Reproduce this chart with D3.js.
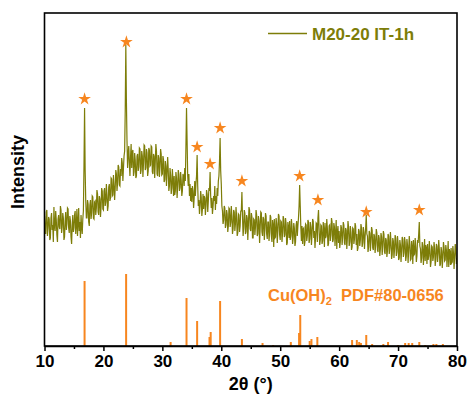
<!DOCTYPE html>
<html>
<head>
<meta charset="utf-8">
<script src="https://cdn.jsdelivr.net/npm/d3@7"></script>
<style>
  body { margin: 0; background: #fff; }
  svg { display: block; }
  text { font-family: "Liberation Sans", Arial, sans-serif; font-weight: bold; }
</style>
</head>
<body>
<svg id="chart"></svg>
<script>
// measured pattern, 2θ = 10..80 in 0.1° steps (arbitrary intensity units), one row per degree
const scanStart = 10;
const scanStep = 0.1;
const scanIntensity = [
  130, 115, 112, 134, 136, 110, 118, 129, 127, 106,
  108, 128, 133, 116, 121, 104, 139, 120, 115, 135,
  126, 111, 104, 127, 131, 119, 117, 140, 136, 113,
  119, 133, 128, 106, 109, 125, 134, 116, 122, 138,
  137, 118, 113, 130, 125, 109, 102, 121, 131, 114,
  118, 131, 135, 112, 121, 137, 110, 123, 138, 115,
  124, 108, 131, 119, 112, 127, 135, 180, 238, 175,
  145, 128, 128, 146, 142, 124, 120, 141, 146, 127,
  133, 150, 149, 128, 127, 144, 145, 131, 138, 156,
  152, 134, 131, 150, 147, 129, 139, 158, 155, 137,
  136, 155, 158, 140, 144, 162, 151, 135, 140, 159,
  162, 145, 148, 168, 167, 150, 151, 171, 160, 146,
  158, 176, 172, 155, 163, 181, 179, 161, 160, 177,
  170, 188, 183, 165, 178, 190, 195, 235, 301, 245,
  205, 178, 192, 200, 183, 170, 189, 202, 178, 194,
  196, 170, 174, 193, 186, 168, 170, 190, 192, 175,
  179, 198, 197, 172, 176, 195, 190, 169, 183, 201,
  200, 176, 178, 197, 193, 170, 175, 198, 196, 180,
  181, 200, 199, 174, 172, 192, 190, 168, 184, 202,
  195, 172, 170, 191, 188, 169, 179, 197, 192, 171,
  172, 190, 186, 164, 166, 185, 180, 160, 174, 189,
  176, 155, 160, 178, 171, 152, 158, 177, 166, 150,
  170, 151, 155, 174, 168, 148, 160, 176, 172, 155,
  158, 174, 166, 150, 155, 172, 170, 160, 178, 165,
  200, 238, 205, 170, 160, 172, 150, 162, 145, 158,
  144, 160, 155, 138, 148, 165, 150, 162, 170, 191,
  160, 140, 146, 132, 140, 155, 149, 130, 137, 152,
  137, 150, 148, 131, 140, 156, 152, 134, 145, 158,
  155, 174, 150, 138, 148, 132, 139, 150, 145, 160,
  136, 150, 142, 158, 150, 165, 170, 185, 208, 175,
  162, 140, 135, 122, 126, 140, 138, 118, 121, 136,
  132, 114, 120, 138, 137, 119, 124, 140, 130, 112,
  117, 136, 134, 115, 122, 139, 129, 110, 113, 132,
  131, 114, 120, 135, 135, 154, 130, 110, 118, 136,
  133, 112, 114, 131, 128, 106, 121, 139, 136, 117,
  115, 133, 129, 108, 108, 127, 126, 111, 119, 136,
  131, 110, 112, 130, 125, 103, 118, 134, 133, 114,
  110, 129, 127, 106, 116, 133, 130, 112, 107, 124,
  124, 105, 113, 131, 129, 110, 104, 126, 121, 99,
  127, 108, 109, 128, 122, 103, 115, 132, 130, 111,
  106, 125, 124, 104, 113, 130, 127, 109, 111, 128,
  122, 101, 103, 124, 119, 108, 125, 106, 110, 127,
  120, 102, 108, 123, 118, 100, 104, 121, 125, 110,
  120, 128, 140, 161, 140, 118, 105, 120, 102, 117,
  118, 100, 104, 122, 121, 105, 110, 126, 124, 103,
  107, 124, 119, 101, 112, 127, 125, 108, 115, 98,
  109, 123, 122, 104, 128, 136, 117, 101, 106, 121,
  120, 102, 105, 124, 116, 99, 123, 108, 110, 127,
  118, 100, 102, 120, 121, 105, 111, 128, 124, 104,
  106, 123, 119, 100, 113, 126, 97, 114, 120, 103,
  115, 98, 104, 121, 118, 101, 109, 124, 121, 103,
  101, 118, 116, 97, 108, 125, 119, 100, 104, 120,
  114, 96, 99, 118, 117, 102, 107, 123, 120, 101,
  112, 95, 98, 117, 115, 100, 106, 122, 118, 99,
  103, 119, 114, 97, 109, 118, 131, 112, 110, 94,
  99, 115, 113, 95, 104, 119, 116, 98, 96, 112,
  110, 93, 101, 117, 113, 96, 94, 111, 108, 90,
  97, 113, 109, 91, 100, 115, 112, 94, 92, 108,
  106, 89, 95, 112, 110, 92, 98, 114, 104, 87,
  91, 108, 105, 88, 97, 111, 108, 90, 94, 110,
  103, 86, 88, 106, 101, 84, 95, 109, 107, 89,
  93, 109, 104, 85, 90, 107, 101, 83, 96, 110,
  102, 86, 87, 105, 99, 82, 106, 91, 92, 108,
  99, 84, 90, 106, 103, 112, 124, 100, 97, 83,
  88, 104, 100, 81, 93, 107, 85, 101, 98, 82,
  102, 86, 90, 105, 97, 79, 84, 100, 99, 85,
  89, 104, 98, 80, 86, 102, 100, 84, 92, 106,
  97, 80, 82, 99, 95, 78, 88, 104, 99, 85,
  86, 101, 96, 79, 91, 105, 79, 97, 94, 81,
  98, 83, 84, 100, 93, 77, 89, 102, 96, 82,
  88
];

// indexed peaks marked with stars
const starAngles = [16.8, 23.9, 34.1, 35.9, 38.1, 39.8, 43.5, 53.3, 56.4, 64.6, 73.6];
const starLevels = [247, 304, 247, 199, 182, 218, 165, 170, 146, 134, 136];

// Cu(OH)2 PDF#80-0656 reference lines
const refAngles  = [16.8, 23.85, 31.4, 34.1, 35.9, 38.0, 38.2, 39.8, 43.5, 47.0, 48.8, 51.8,
                    53.2, 53.4, 55.0, 55.3, 56.3, 62.2, 63.0, 63.4, 63.7, 64.6, 65.6, 67.5,
                    68.3, 70.0, 71.2, 71.8, 72.4, 73.6, 74.6, 76.0, 76.5, 77.6];
const refHeights = [65, 72, 4, 48, 25, 9, 14, 45, 7, 3, 1, 4,
                    13, 31, 5, 7, 9, 6, 6, 4, 3, 11, 2, 2,
                    4, 1, 3, 3, 3, 4, 1, 2, 2, 2];

const xMajor = [10, 20, 30, 40, 50, 60, 70, 80];
const xMinor = [15, 25, 35, 45, 55, 65, 75];

const W = 467, H = 396;
const margin = { top: 13, right: 10, bottom: 50, left: 44.5 };
const olive = "#7d7d08";
const orange = "#f7861f";

const svg = d3.select("#chart").attr("width", W).attr("height", H);

const x = d3.scaleLinear().domain([10, 80]).range([margin.left, W - margin.right]);
const y = d3.scaleLinear().domain([0, 333]).range([H - margin.bottom, margin.top]);

const scan = scanIntensity.map((v, i) => ({ t: scanStart + i * scanStep, v }));

svg.append("defs").append("clipPath").attr("id", "plotclip")
  .append("rect")
  .attr("x", x(10)).attr("y", y(333))
  .attr("width", x(80) - x(10)).attr("height", y(0) - y(333));

// reference sticks
svg.append("g")
  .selectAll("line")
  .data(refAngles.map((t, i) => ({ t, h: refHeights[i] })))
  .join("line")
  .attr("x1", d => x(d.t)).attr("x2", d => x(d.t))
  .attr("y1", y(0)).attr("y2", d => y(d.h))
  .attr("stroke", orange)
  .attr("stroke-width", 2);

// measured scan
svg.append("path")
  .datum(scan)
  .attr("clip-path", "url(#plotclip)")
  .attr("fill", "none")
  .attr("stroke", olive)
  .attr("stroke-width", 1.2)
  .attr("d", d3.line().x(d => x(d.t)).y(d => y(d.v)));

// stars
svg.append("g")
  .selectAll("path")
  .data(starAngles.map((t, i) => ({ t, v: starLevels[i] })))
  .join("path")
  .attr("transform", d => `translate(${x(d.t)},${y(d.v)})`)
  .attr("d", d3.symbol().type(d3.symbolStar).size(50))
  .attr("fill", orange);

// frame
svg.append("rect")
  .attr("x", x(10)).attr("y", y(333))
  .attr("width", x(80) - x(10)).attr("height", y(0) - y(333))
  .attr("fill", "none")
  .attr("stroke", "#000")
  .attr("stroke-width", 1.6);

// x axis
const gx = svg.append("g")
  .attr("transform", `translate(0,${y(0)})`)
  .call(d3.axisBottom(x).tickValues(xMajor).tickSize(5).tickSizeOuter(0).tickPadding(4));
gx.select(".domain").attr("stroke-width", 1.6);
gx.selectAll(".tick line").attr("stroke-width", 1.5);
gx.selectAll("text")
  .attr("font-size", "17px")
  .attr("font-family", "'Liberation Sans', Arial, sans-serif")
  .attr("font-weight", "bold")
  .attr("fill", "#000");

svg.append("g")
  .attr("transform", `translate(0,${y(0)})`)
  .call(d3.axisBottom(x).tickValues(xMinor).tickSize(3).tickFormat(""))
  .call(g => g.select(".domain").remove())
  .selectAll(".tick line").attr("stroke-width", 1.5);

svg.append("text")
  .attr("x", (x(10) + x(80)) / 2)
  .attr("y", 390)
  .attr("text-anchor", "middle")
  .attr("font-size", "18px")
  .text("2θ (°)");

svg.append("text")
  .attr("transform", "translate(24,172) rotate(-90)")
  .attr("text-anchor", "middle")
  .attr("font-size", "18px")
  .text("Intensity");

// legend
svg.append("line")
  .attr("x1", 268).attr("x2", 307)
  .attr("y1", 33.5).attr("y2", 33.5)
  .attr("stroke", olive).attr("stroke-width", 1.5);
svg.append("text")
  .attr("x", 312).attr("y", 40)
  .attr("font-size", "17px")
  .attr("fill", olive)
  .text("M20-20 IT-1h");

// reference label
const refLabel = svg.append("text")
  .attr("x", 268).attr("y", 301)
  .attr("font-size", "16.5px")
  .attr("fill", orange);
refLabel.append("tspan").text("Cu(OH)");
refLabel.append("tspan").attr("font-size", "11px").attr("dy", 4).text("2");
refLabel.append("tspan").attr("dy", -4).attr("xml:space", "preserve").text("\u00a0\u00a0PDF#80-0656");
</script>
</body>
</html>
